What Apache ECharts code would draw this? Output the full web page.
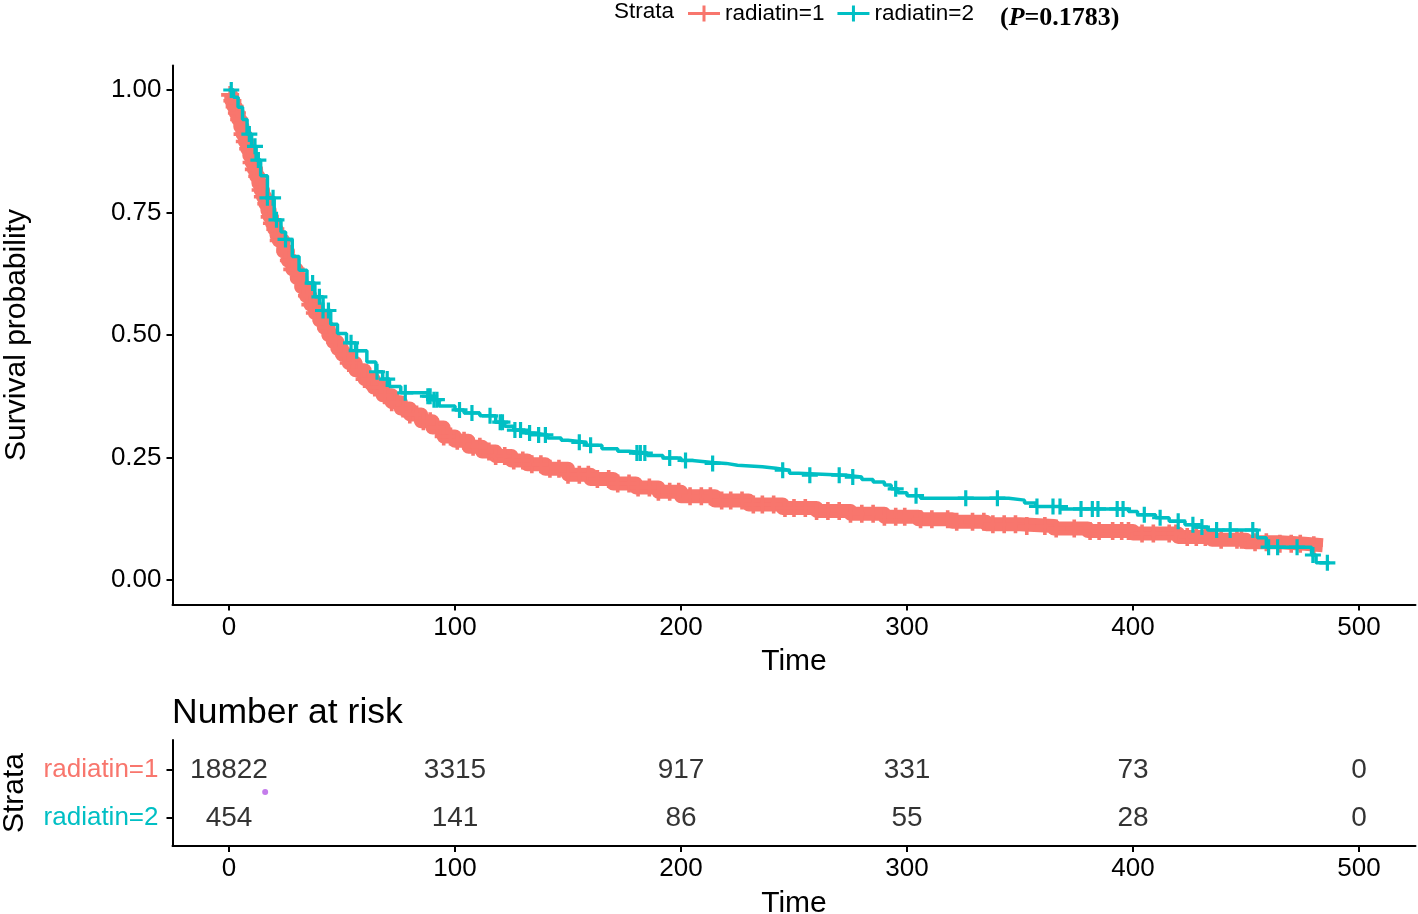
<!DOCTYPE html>
<html><head><meta charset="utf-8">
<script src="https://cdn.jsdelivr.net/npm/echarts@6/dist/echarts.min.js"></script>
<style>html,body{margin:0;padding:0;background:#fff}#c{width:1418px;height:914px}</style>
</head><body><div id="c"></div>
<script>
// ---- data ----
const strata = ['radiatin=1', 'radiatin=2'];
const strataColors = ['#F8766D', '#00BFC4'];
const xTicks = [0, 100, 200, 300, 400, 500];
const yTicks = [0, 0.25, 0.5, 0.75, 1];

// radiatin=1 Kaplan-Meier curve (time, survival)
const time1 = [0,1,2,3,4,5,6,7,8,9,10,11,12,13,14,15,16,17,18,19,20,21,22,24,26,28,30,32,34,36,38,40,42,44,46,48,50,53,56,60,64,68,72,76,80,85,90,95,100,106,112,118,125,132,140,150,160,170,180,190,200,215,230,245,260,275,290,305,320,335,350,365,380,400,420,435,450,465,476,484];
const surv1 = [0.99,0.978,0.966,0.953,0.94,0.925,0.91,0.895,0.88,0.866,0.852,0.838,0.824,0.81,0.796,0.782,0.768,0.754,0.741,0.728,0.716,0.704,0.693,0.671,0.652,0.634,0.616,0.598,0.58,0.562,0.545,0.53,0.515,0.5,0.486,0.472,0.46,0.443,0.428,0.41,0.393,0.377,0.363,0.35,0.338,0.324,0.311,0.293,0.284,0.272,0.262,0.253,0.244,0.236,0.227,0.215,0.206,0.197,0.189,0.18,0.171,0.162,0.154,0.147,0.141,0.135,0.129,0.124,0.119,0.114,0.11,0.105,0.1,0.095,0.088,0.082,0.077,0.074,0.071,0.07];
// radiatin=1 censoring times
const censor1 = [0.5,1.5,2.5,3.5,4.5,6,7,8.5,10,11,12.5,14,15,16.5,18,19,20.5,22,23.5,25,26.5,28,29.5,31,33,34.5,36,38,39.5,41,43,45,47,49,51,53,55,57.5,60,62,64.5,67,69,72,74.5,77,80,83,86,89,92,95,98,101,104,108,111,115,118,122,126,130,134,138,142,146,150,155,159,163,168,172,177,181,186,190,195,199,204,209,213,218,222,227,232,236,241,246,250,255,260,265,270,275,280,285,290,295,299,306,311,318,322,329,334,338,343,348,353,361,366,374,381,385,391,395,398,404,409,416,419,424,428,432,439,446,448,454,459,465,470,474,480];

// radiatin=2 Kaplan-Meier curve (time, survival)
const time2 = [0,2,4,6,8,10,12,14,17,20,23,25,28,31,34.5,38,41.6,45,48,52,56,61,65,68,71,76,88,90,93,100,104,111,118,122,126,131,135,141,147,150,158,165,172,177,185,192,200,205,214,220,225,236,242,248,252,273,280,285,290,293,296,300,306,345,352,357,368,398,402,410,416,423,428,433,455,459,479,481,487];
const surv2 = [1.0,0.985,0.965,0.94,0.91,0.885,0.857,0.825,0.78,0.735,0.71,0.695,0.66,0.632,0.606,0.578,0.55,0.522,0.503,0.484,0.468,0.445,0.425,0.41,0.395,0.382,0.375,0.368,0.355,0.347,0.341,0.335,0.322,0.314,0.306,0.3,0.296,0.29,0.285,0.281,0.275,0.268,0.263,0.259,0.254,0.249,0.244,0.24,0.238,0.234,0.231,0.228,0.224,0.218,0.214,0.21,0.205,0.2,0.194,0.186,0.178,0.172,0.167,0.163,0.157,0.15,0.145,0.14,0.133,0.127,0.12,0.113,0.108,0.102,0.086,0.067,0.051,0.035,0.035];
// radiatin=2 censoring times
const censor2 = [1,9,11.5,13,17,19.5,21,25,37,40,41.6,44,54,56.5,65.5,70,78,88,89,90.7,92,102,107.5,115.5,120,121,126.5,129,133,137,140,155,160,180.5,182,184,195,202,214,245,257,270,276,295,304,326,340,357.5,364.6,367.7,377,382,384.5,393,395.6,405,412,420,426.5,430.5,437,443,453,460,464,472.6,479.6,486];

// number at risk table
const riskTimes = [0, 100, 200, 300, 400, 500];
const risk1 = [18822, 3315, 917, 331, 73, 0];
const risk2 = [454, 141, 86, 55, 28, 0];
const pValue = '0.1783';
const strayDot = [[16, 1.46]];

// ---- helpers ----
function stepAt(ts, ss, t) {
  let s = ss[0];
  for (let i = 0; i < ts.length; i++) { if (ts[i] <= t) s = ss[i]; else break; }
  return s;
}
const FONT = 'Liberation Sans, Arial, Helvetica, sans-serif';
const INK = '#000';
const plus = 'path://M4,0H6V4H10V6H6V10H4V6H0V4H4Z';
const legendIcon = 'path://M0,6.5H14.5V0H17.5V6.5H32V9.5H17.5V16H14.5V9.5H0Z';

const axisLine = { show: true, onZero: false, lineStyle: { color: INK, width: 2 } };
const axisTickX = { show: true, length: 6, lineStyle: { color: INK, width: 2 }, customValues: xTicks };

const chart = echarts.init(document.getElementById('c'), null, { renderer: 'canvas' });
chart.setOption({
  animation: false,
  backgroundColor: '#fff',
  title: [
    { text: 'Strata', left: 614, top: 0, padding: 0,
      textStyle: { fontFamily: FONT, fontSize: 22.5, fontWeight: 'normal', color: INK } },
    { text: '{b|(}{i|P}{b|=' + pValue + ')}', left: 1000, top: 5, padding: 0,
      textStyle: { rich: {
        b: { fontFamily: 'Liberation Serif, Times New Roman, serif', fontSize: 26, fontWeight: 'bold', color: '#000' },
        i: { fontFamily: 'Liberation Serif, Times New Roman, serif', fontSize: 26, fontWeight: 'bold', fontStyle: 'italic', color: '#000' } } } },
    { text: 'Number at risk', left: 172, top: 695, padding: 0,
      textStyle: { fontFamily: FONT, fontSize: 35.5, fontWeight: 'normal', color: INK } }
  ],
  legend: {
    left: 688, top: 2, padding: 0, itemGap: 13, itemWidth: 32, itemHeight: 16,
    selectedMode: false,
    textStyle: { fontFamily: FONT, fontSize: 22.5, color: INK },
    itemStyle: { borderWidth: 0 },
    data: strata.map(n => ({ name: n, icon: legendIcon }))
  },
  grid: [
    { left: 172.5, top: 65.5, width: 1243, height: 539, outerBoundsMode: 'none', containLabel: false },
    { left: 172.5, top: 740, width: 1243, height: 106, outerBoundsMode: 'none', containLabel: false }
  ],
  xAxis: [
    { type: 'value', gridIndex: 0, min: -25, max: 525,
      name: 'Time', nameLocation: 'middle', nameGap: 42,
      nameTextStyle: { fontFamily: FONT, fontSize: 30, color: INK },
      axisLine: axisLine, axisTick: axisTickX, splitLine: { show: false },
      axisLabel: { customValues: xTicks, fontFamily: FONT, fontSize: 26, color: INK, margin: 10 } },
    { type: 'value', gridIndex: 1, min: -25, max: 525,
      name: 'Time', nameLocation: 'middle', nameGap: 43,
      nameTextStyle: { fontFamily: FONT, fontSize: 30, color: INK },
      axisLine: axisLine, axisTick: axisTickX, splitLine: { show: false },
      axisLabel: { customValues: xTicks, fontFamily: FONT, fontSize: 26, color: INK, margin: 10 } }
  ],
  yAxis: [
    { type: 'value', gridIndex: 0, min: -0.05, max: 1.05,
      name: 'Survival probability', nameLocation: 'middle', nameRotate: 90, nameGap: 141,
      nameTextStyle: { fontFamily: FONT, fontSize: 30, color: INK },
      axisLine: axisLine, splitLine: { show: false },
      axisTick: { show: true, length: 6, lineStyle: { color: INK, width: 2 }, customValues: yTicks },
      axisLabel: { customValues: yTicks, formatter: v => Number(v).toFixed(2),
        fontFamily: FONT, fontSize: 26, color: INK, margin: 11 } },
    { type: 'value', gridIndex: 1, min: 0.375, max: 2.583, inverse: true,
      name: 'Strata', nameLocation: 'middle', nameRotate: 90, nameGap: 143,
      nameTextStyle: { fontFamily: FONT, fontSize: 30, color: INK },
      axisLine: axisLine, splitLine: { show: false },
      axisTick: { show: true, length: 6, lineStyle: { color: INK, width: 2 }, customValues: [1, 2] },
      axisLabel: { customValues: [1, 2], formatter: v => strata[Math.round(v) - 1],
        color: v => strataColors[Math.round(Number(v)) - 1],
        fontFamily: FONT, fontSize: 26, margin: 14 } }
  ],
  series: [
    { name: strata[0], type: 'line', xAxisIndex: 0, yAxisIndex: 0, step: 'end',
      showSymbol: false, symbol: 'none', silent: true, z: 2,
      itemStyle: { color: strataColors[0] },
      lineStyle: { color: strataColors[0], width: 14, join: 'round' },
      data: time1.map((t, i) => [t, surv1[i]]) },
    { name: 'censor1', type: 'scatter', xAxisIndex: 0, yAxisIndex: 0, symbol: plus, symbolSize: 18,
      silent: true, z: 3, itemStyle: { color: strataColors[0], opacity: 1 },
      data: censor1.map(t => [t, stepAt(time1, surv1, t)]) },
    { name: strata[1], type: 'line', xAxisIndex: 0, yAxisIndex: 0, step: 'end',
      showSymbol: false, symbol: 'none', silent: true, z: 4,
      itemStyle: { color: strataColors[1] },
      lineStyle: { color: strataColors[1], width: 3.5 },
      data: time2.map((t, i) => [t, surv2[i]]) },
    { name: 'censor2', type: 'scatter', xAxisIndex: 0, yAxisIndex: 0, symbol: plus, symbolSize: 16,
      silent: true, z: 5, itemStyle: { color: strataColors[1], opacity: 1 },
      data: censor2.map(t => [t, stepAt(time2, surv2, t)]) },
    { name: 'risk1', type: 'scatter', xAxisIndex: 1, yAxisIndex: 1, symbolSize: 0.1, silent: true,
      itemStyle: { color: 'rgba(0,0,0,0)' },
      label: { show: true, position: 'inside', formatter: p => String(p.value[2]),
        fontFamily: FONT, fontSize: 28, color: INK },
      data: riskTimes.map((t, i) => [t, 1, risk1[i]]) },
    { name: 'risk2', type: 'scatter', xAxisIndex: 1, yAxisIndex: 1, symbolSize: 0.1, silent: true,
      itemStyle: { color: 'rgba(0,0,0,0)' },
      label: { show: true, position: 'inside', formatter: p => String(p.value[2]),
        fontFamily: FONT, fontSize: 28, color: INK },
      data: riskTimes.map((t, i) => [t, 2, risk2[i]]) },
    { name: 'dot', type: 'scatter', xAxisIndex: 1, yAxisIndex: 1, symbolSize: 6, silent: true,
      itemStyle: { color: '#b55be6' }, data: strayDot }
  ]
});
</script></body></html>
